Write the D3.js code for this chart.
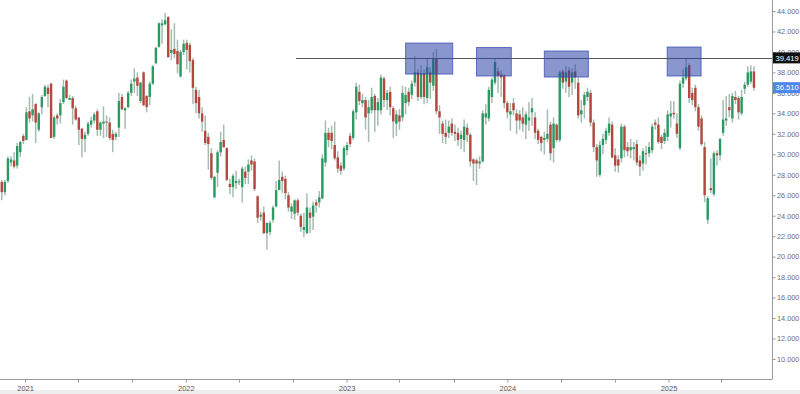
<!DOCTYPE html>
<html>
<head>
<meta charset="utf-8">
<script src="https://cdn.jsdelivr.net/npm/d3@7"></script>
<style>
  html, body { margin: 0; padding: 0; background: #fff; }
  svg { display: block; font-family: "Liberation Sans", Arial, sans-serif; }
</style>
</head>
<body>
<svg id="chart" width="800" height="394"></svg>
<script>
// weekly candles, one per Monday
const firstWeek = new Date(2020, 10, 9);
const lastWeek = new Date(2025, 6, 14);

const opens = [
  27.3, 26.3, 27.4, 29.2, 29.4, 28.9, 30.2, 31.8, 31.4, 34.2,
  33.8, 34.9, 32.4, 34.6, 35.7, 36.5, 36.9, 31.7, 33.8, 33.8,
  35.1, 37.2, 35.3, 35.5, 34.5, 33.6, 32.5, 31.5, 32.0, 32.9,
  33.3, 34.2, 32.4, 33.0, 33.2, 33.1, 32.0, 31.7, 32.6, 35.6,
  34.3, 34.6, 36.0, 37.1, 37.5, 35.2, 38.0, 35.7, 35.6, 36.9,
  38.9, 40.5, 42.6, 42.7, 43.4, 39.9, 40.3, 40.1, 37.6, 40.0,
  40.9, 40.7, 39.2, 36.3, 35.6, 34.0, 32.3, 31.7, 30.1, 25.8,
  28.2, 30.2, 31.4, 30.6, 27.1, 26.8, 27.2, 27.3, 26.8, 28.3,
  28.3, 29.4, 29.3, 25.9, 23.9, 24.3, 22.3, 22.4, 23.6, 24.9,
  26.5, 27.8, 27.6, 26.0, 24.4, 24.2, 25.5, 24.0, 22.6, 22.3,
  24.3, 23.9, 25.3, 25.3, 25.7, 29.2, 32.1, 32.1, 30.9, 29.7,
  28.9, 28.6, 30.4, 31.8, 31.6, 34.1, 36.1, 35.0, 35.3, 34.0,
  34.3, 35.7, 34.3, 34.3, 37.4, 35.3, 36.1, 34.5, 33.0, 33.8,
  33.6, 35.0, 36.1, 35.8, 37.0, 38.0, 35.6, 37.9, 35.5, 38.0,
  36.7, 39.4, 34.2, 33.0, 32.1, 32.1, 33.0, 32.2, 32.1, 31.5,
  31.4, 32.6, 31.9, 29.5, 29.4, 29.1, 29.3, 33.6, 33.5, 35.6,
  37.0, 38.1, 37.8, 37.7, 35.0, 33.9, 35.0, 34.0, 33.9, 33.6,
  32.9, 33.3, 34.1, 33.6, 32.3, 31.7, 31.4, 31.5, 32.9, 30.6,
  32.9, 31.4, 38.1, 37.1, 38.2, 37.0, 38.1, 37.0, 33.9, 34.8,
  35.6, 36.0, 33.1, 30.7, 28.0, 30.9, 31.4, 32.1, 32.9, 29.9,
  29.5, 29.6, 32.7, 30.7, 30.4, 30.5, 31.0, 29.4, 29.1, 30.1,
  30.1, 30.4, 33.1, 32.9, 31.7, 31.3, 31.7, 33.7, 34.05, 33.0,
  30.6, 36.9, 37.4, 38.7, 36.0, 36.5, 34.6, 33.5, 30.7, 23.6,
  26.7, 26.1, 30.1, 29.9, 32.1, 33.3, 34.6, 33.5, 35.6, 35.5,
  34.0, 36.4, 36.8, 37.1, 38.1
];
const highs = [
  27.5, 27.5, 29.8, 29.8, 30.2, 31.1, 31.3, 32.0, 34.6, 35.6,
  35.9, 35.0, 34.1, 35.8, 36.8, 36.8, 37.0, 33.8, 34.0, 35.4,
  37.3, 37.3, 35.8, 35.7, 34.7, 33.6, 32.6, 32.2, 33.2, 33.7,
  34.1, 34.4, 33.2, 34.7, 33.8, 33.6, 32.4, 32.2, 36.0, 35.9,
  34.6, 36.2, 37.3, 38.4, 38.0, 37.1, 38.1, 35.8, 37.1, 38.7,
  40.5, 42.9, 43.2, 43.8, 43.5, 42.2, 42.8, 41.2, 40.2, 41.2,
  41.2, 40.9, 39.4, 36.6, 36.3, 34.6, 33.8, 32.1, 30.6, 27.9,
  30.4, 32.2, 32.9, 30.7, 27.6, 28.1, 28.4, 27.6, 28.8, 28.8,
  29.5, 29.9, 29.6, 26.0, 24.4, 24.9, 23.3, 23.5, 25.0, 27.4,
  29.4, 28.3, 27.9, 26.3, 25.2, 25.6, 25.7, 24.2, 24.3, 26.2,
  24.8, 25.4, 25.6, 26.4, 30.0, 33.3, 32.6, 32.8, 33.2, 30.3,
  29.2, 30.8, 31.2, 32.1, 34.4, 37.0, 36.8, 35.9, 35.6, 35.3,
  36.5, 35.9, 35.5, 37.8, 37.6, 36.3, 36.6, 34.7, 34.3, 34.4,
  36.7, 36.6, 36.5, 37.2, 39.6, 38.3, 38.7, 38.3, 39.4, 38.5,
  40.0, 40.3, 34.8, 33.3, 33.4, 33.3, 33.5, 32.9, 32.6, 32.3,
  33.4, 33.0, 32.1, 29.6, 29.6, 29.8, 34.3, 34.9, 36.6, 37.5,
  39.4, 38.5, 38.2, 37.8, 35.2, 35.0, 35.5, 34.4, 34.3, 34.6,
  34.2, 35.1, 35.5, 34.1, 32.5, 31.8, 32.2, 34.4, 33.2, 33.6,
  33.0, 38.2, 38.3, 38.6, 38.5, 38.4, 38.8, 37.5, 35.3, 36.1,
  36.5, 36.3, 33.4, 31.0, 31.3, 32.0, 32.6, 33.6, 33.2, 30.6,
  29.9, 33.0, 32.9, 31.2, 31.5, 31.2, 31.4, 29.9, 30.6, 30.8,
  31.2, 33.0, 33.4, 33.6, 31.9, 32.5, 34.3, 35.2, 35.2, 34.0,
  37.2, 38.3, 39.4, 38.9, 36.5, 36.8, 34.9, 33.8, 31.2, 25.9,
  29.6, 30.3, 30.4, 31.6, 35.3, 35.7, 35.9, 36.0, 36.2, 35.7,
  36.3, 37.1, 38.6, 38.7, 38.6
];
const lows = [
  25.5, 26.0, 27.2, 28.8, 28.6, 28.6, 29.7, 31.0, 31.6, 33.1,
  33.2, 31.1, 32.2, 33.9, 35.6, 34.6, 31.6, 31.5, 32.9, 33.0,
  34.9, 35.4, 35.3, 32.9, 33.3, 30.9, 29.7, 30.2, 31.8, 32.6,
  33.0, 31.8, 31.8, 31.6, 31.7, 31.4, 30.2, 31.4, 31.7, 34.3,
  32.5, 34.5, 35.7, 36.0, 35.7, 35.0, 34.7, 34.1, 34.8, 36.8,
  38.8, 40.4, 40.8, 42.6, 39.4, 39.2, 39.4, 37.9, 37.5, 39.7,
  38.3, 38.0, 34.9, 34.0, 33.5, 32.2, 30.9, 28.5, 27.5, 25.7,
  26.8, 29.8, 30.6, 27.4, 26.1, 25.8, 26.6, 27.0, 25.3, 27.1,
  27.1, 28.4, 26.4, 23.3, 23.5, 22.2, 20.7, 22.1, 23.3, 24.8,
  26.5, 26.2, 25.6, 24.4, 23.7, 23.6, 24.0, 22.4, 21.9, 22.2,
  22.3, 22.6, 24.3, 24.8, 25.6, 28.8, 30.7, 30.5, 29.4, 28.2,
  28.0, 28.4, 29.9, 30.7, 31.4, 33.4, 34.8, 34.6, 32.4, 31.2,
  34.0, 32.2, 32.8, 33.9, 34.6, 34.3, 33.8, 31.6, 31.8, 32.4,
  33.2, 33.9, 34.7, 35.4, 36.6, 35.2, 35.4, 34.9, 35.0, 35.4,
  36.2, 33.9, 32.0, 31.1, 31.0, 31.6, 31.8, 31.3, 30.8, 30.5,
  30.2, 31.2, 28.8, 27.4, 27.0, 28.6, 29.2, 32.9, 33.2, 35.0,
  36.8, 36.0, 35.6, 34.5, 33.5, 32.3, 33.8, 32.0, 32.4, 32.2,
  31.5, 32.3, 32.8, 31.5, 31.0, 30.3, 30.0, 31.2, 29.4, 29.2,
  31.2, 31.2, 36.4, 36.0, 35.6, 35.8, 36.4, 33.5, 33.1, 33.5,
  35.2, 32.7, 30.2, 27.8, 27.8, 30.0, 31.0, 31.8, 29.6, 28.3,
  28.2, 29.2, 29.7, 29.8, 29.6, 29.4, 28.9, 27.9, 28.4, 29.0,
  29.7, 30.1, 32.4, 31.0, 30.5, 31.0, 31.3, 32.6, 33.5, 31.6,
  30.4, 36.5, 37.2, 35.0, 34.8, 34.2, 32.3, 30.8, 25.3, 23.2,
  26.2, 25.9, 28.9, 29.4, 31.8, 32.8, 33.6, 33.1, 34.9, 33.4,
  33.8, 35.9, 36.6, 36.9, 36.2
];
const closes = [
  26.3, 27.3, 29.6, 29.5, 28.8, 30.8, 31.2, 31.3, 34.1, 33.5,
  34.4, 33.1, 34.0, 35.6, 36.6, 35.9, 31.6, 33.6, 33.5, 35.0,
  36.6, 35.5, 35.5, 34.5, 33.4, 32.4, 31.5, 31.9, 33.0, 33.3,
  33.9, 32.4, 33.1, 33.2, 33.1, 31.6, 31.4, 32.0, 35.2, 34.4,
  34.5, 36.0, 36.9, 37.4, 36.7, 37.0, 34.8, 34.6, 36.9, 38.6,
  40.4, 42.8, 42.8, 43.1, 39.5, 40.2, 39.8, 38.8, 40.0, 40.8,
  40.2, 39.1, 36.5, 35.0, 34.0, 33.2, 31.1, 31.0, 27.7, 27.8,
  30.2, 31.2, 30.7, 27.5, 26.8, 27.9, 27.4, 27.35, 28.6, 27.7,
  29.0, 29.0, 26.6, 23.8, 24.1, 22.3, 23.3, 23.3, 24.8, 26.5,
  27.5, 27.4, 26.2, 24.8, 24.9, 25.5, 24.3, 22.9, 22.9, 24.8,
  23.8, 25.0, 25.0, 25.8, 29.6, 32.1, 31.4, 31.3, 29.6, 28.6,
  28.4, 30.6, 30.9, 31.0, 34.2, 36.6, 35.2, 35.3, 33.6, 34.6,
  35.6, 34.3, 35.1, 37.5, 35.3, 36.0, 34.6, 33.2, 33.9, 33.2,
  36.0, 35.8, 35.1, 36.9, 38.0, 35.6, 37.9, 35.6, 38.5, 37.0,
  39.4, 34.2, 33.6, 32.0, 31.7, 32.7, 32.1, 32.0, 31.4, 31.9,
  32.7, 31.9, 29.3, 29.1, 29.1, 29.3, 34.0, 34.0, 36.3, 37.3,
  39.0, 37.7, 37.5, 35.0, 34.1, 34.2, 34.3, 33.3, 33.3, 33.0,
  33.9, 33.6, 34.5, 32.1, 31.4, 31.1, 31.6, 32.0, 30.1, 33.0,
  31.4, 38.0, 37.0, 38.0, 36.6, 38.0, 37.5, 33.8, 34.3, 35.8,
  36.1, 33.1, 30.7, 29.4, 30.9, 31.5, 32.3, 33.0, 29.7, 28.9,
  28.9, 32.7, 30.4, 30.3, 30.7, 30.7, 29.2, 28.8, 30.3, 30.0,
  30.7, 32.7, 32.9, 31.2, 31.1, 32.1, 33.9, 34.0, 33.9, 32.0,
  36.9, 37.5, 38.5, 35.5, 35.3, 34.6, 32.7, 31.0, 26.0, 25.7,
  26.5, 30.1, 29.9, 31.5, 33.4, 33.5, 34.3, 35.7, 35.3, 34.1,
  35.6, 36.8, 38.0, 38.1, 36.5
];

const yTicks = [10, 12, 14, 16, 18, 20, 22, 24, 26, 28, 30, 32, 34, 36, 38, 40, 42, 44];
const yearTicks = [new Date(2021, 0, 1), new Date(2022, 0, 1), new Date(2023, 0, 1), new Date(2024, 0, 1), new Date(2025, 0, 1)];
const minorTicks = [
  new Date(2021, 4, 1), new Date(2021, 8, 1), new Date(2022, 4, 1), new Date(2022, 8, 1),
  new Date(2023, 4, 1), new Date(2023, 8, 1), new Date(2024, 4, 1), new Date(2024, 8, 1),
  new Date(2025, 4, 1)
];

// resistance level and the four test zones
const resistance = { from: new Date(2022, 8, 8), value: 39.419 };
const lastPrice = 36.510;
const zones = [
  { start: new Date(2023, 4, 15), end: new Date(2023, 7, 30), top: 40.87, bottom: 37.84 },
  { start: new Date(2023, 9, 23), end: new Date(2024, 0, 10), top: 40.43, bottom: 37.65 },
  { start: new Date(2024, 2, 25), end: new Date(2024, 6, 3), top: 40.09, bottom: 37.55 },
  { start: new Date(2024, 11, 29), end: new Date(2025, 2, 16), top: 40.48, bottom: 37.65 }
];

const data = d3.timeMonday.range(firstWeek, d3.timeDay.offset(lastWeek, 1)).map((d, i) => ({
  date: d, open: opens[i], high: highs[i], low: lows[i], close: closes[i]
}));

const width = 800, height = 394;
const plotRight = 772, plotBottom = 379.5;

const svg = d3.select('#chart');

const x = d3.scaleTime()
  .domain([new Date(2020, 10, 5), new Date(2025, 7, 24)])
  .range([0, plotRight]);

const y = d3.scaleLinear()
  .domain([10, 44])
  .range([359, 11]);

const upColor = '#2a9a63';
const downColor = '#b4463c';
const wickColor = '#a7bcb1';
const bodyW = 2.4;

// bottom strip
svg.append('rect')
  .attr('x', 0).attr('y', 390)
  .attr('width', width).attr('height', 4)
  .attr('fill', '#eeeeee');

// candles
const candle = svg.append('g').attr('class', 'candles')
  .selectAll('g')
  .data(data)
  .enter()
  .append('g');

candle.append('line')
  .attr('x1', d => x(d.date))
  .attr('x2', d => x(d.date))
  .attr('y1', d => y(Math.max(d.high, d.open, d.close)))
  .attr('y2', d => y(Math.min(d.low, d.open, d.close)))
  .attr('stroke', wickColor)
  .attr('stroke-width', 1.5);

candle.append('rect')
  .attr('x', d => x(d.date) - bodyW / 2)
  .attr('y', d => y(Math.max(d.open, d.close)))
  .attr('width', bodyW)
  .attr('height', d => Math.max(1, Math.abs(y(d.open) - y(d.close))))
  .attr('fill', d => d.close >= d.open ? upColor : downColor);

// resistance line
svg.append('line')
  .attr('x1', x(resistance.from))
  .attr('x2', plotRight)
  .attr('y1', Math.round(y(resistance.value)) + 0.5)
  .attr('y2', Math.round(y(resistance.value)) + 0.5)
  .attr('stroke', '#5a5a5a')
  .attr('stroke-width', 1);

// zones
svg.append('g').selectAll('rect')
  .data(zones)
  .enter()
  .append('rect')
  .attr('x', d => x(d.start))
  .attr('y', d => y(d.top))
  .attr('width', d => x(d.end) - x(d.start))
  .attr('height', d => y(d.bottom) - y(d.top))
  .attr('fill', 'rgba(42, 66, 168, 0.55)')
  .attr('stroke', 'rgba(52, 76, 180, 0.75)')
  .attr('stroke-width', 1);

// right axis
const yAxis = svg.append('g')
  .attr('transform', `translate(${plotRight + 0.5},0)`)
  .call(d3.axisRight(y).tickValues(yTicks).tickSize(3).tickPadding(1.5).tickFormat(d3.format('.3f')));
yAxis.select('.domain').attr('d', `M0,0V${plotBottom}`).attr('stroke', '#9a9a9a');
yAxis.selectAll('.tick line').attr('stroke', '#9a9a9a');
yAxis.selectAll('.tick text')
  .attr('fill', '#6e6e6e')
  .style('font-size', '7.3px');

// bottom axis
const xAxis = svg.append('g')
  .attr('transform', `translate(0,${plotBottom})`)
  .call(d3.axisBottom(x).tickValues(yearTicks).tickSize(3).tickPadding(3).tickFormat(d3.timeFormat('%Y')));
xAxis.select('.domain').attr('d', `M0,0H${plotRight}`).attr('stroke', '#9a9a9a');
xAxis.selectAll('.tick line').attr('stroke', '#9a9a9a');
xAxis.selectAll('.tick text')
  .attr('fill', '#555')
  .style('font-size', '7.5px');

svg.append('g')
  .attr('transform', `translate(0,${plotBottom})`)
  .selectAll('line')
  .data(minorTicks)
  .enter()
  .append('line')
  .attr('x1', d => Math.round(x(d)) + 0.5)
  .attr('x2', d => Math.round(x(d)) + 0.5)
  .attr('y1', 0).attr('y2', 3)
  .attr('stroke', '#9a9a9a');

// price labels on the axis
const priceTags = [
  { value: resistance.value, bg: '#111111' },
  { value: lastPrice, bg: '#4f86ec' }
];
const tag = svg.append('g').selectAll('g')
  .data(priceTags)
  .enter()
  .append('g')
  .attr('transform', d => `translate(${plotRight + 1},${y(d.value)})`);
tag.append('rect')
  .attr('x', 0).attr('y', -5.5)
  .attr('width', width - plotRight - 1).attr('height', 11)
  .attr('fill', d => d.bg);
tag.append('text')
  .attr('x', 2.5).attr('y', 2.8)
  .attr('fill', '#fff')
  .style('font-size', '7.6px')
  .text(d => d3.format('.3f')(d.value));
</script>
</body>
</html>
